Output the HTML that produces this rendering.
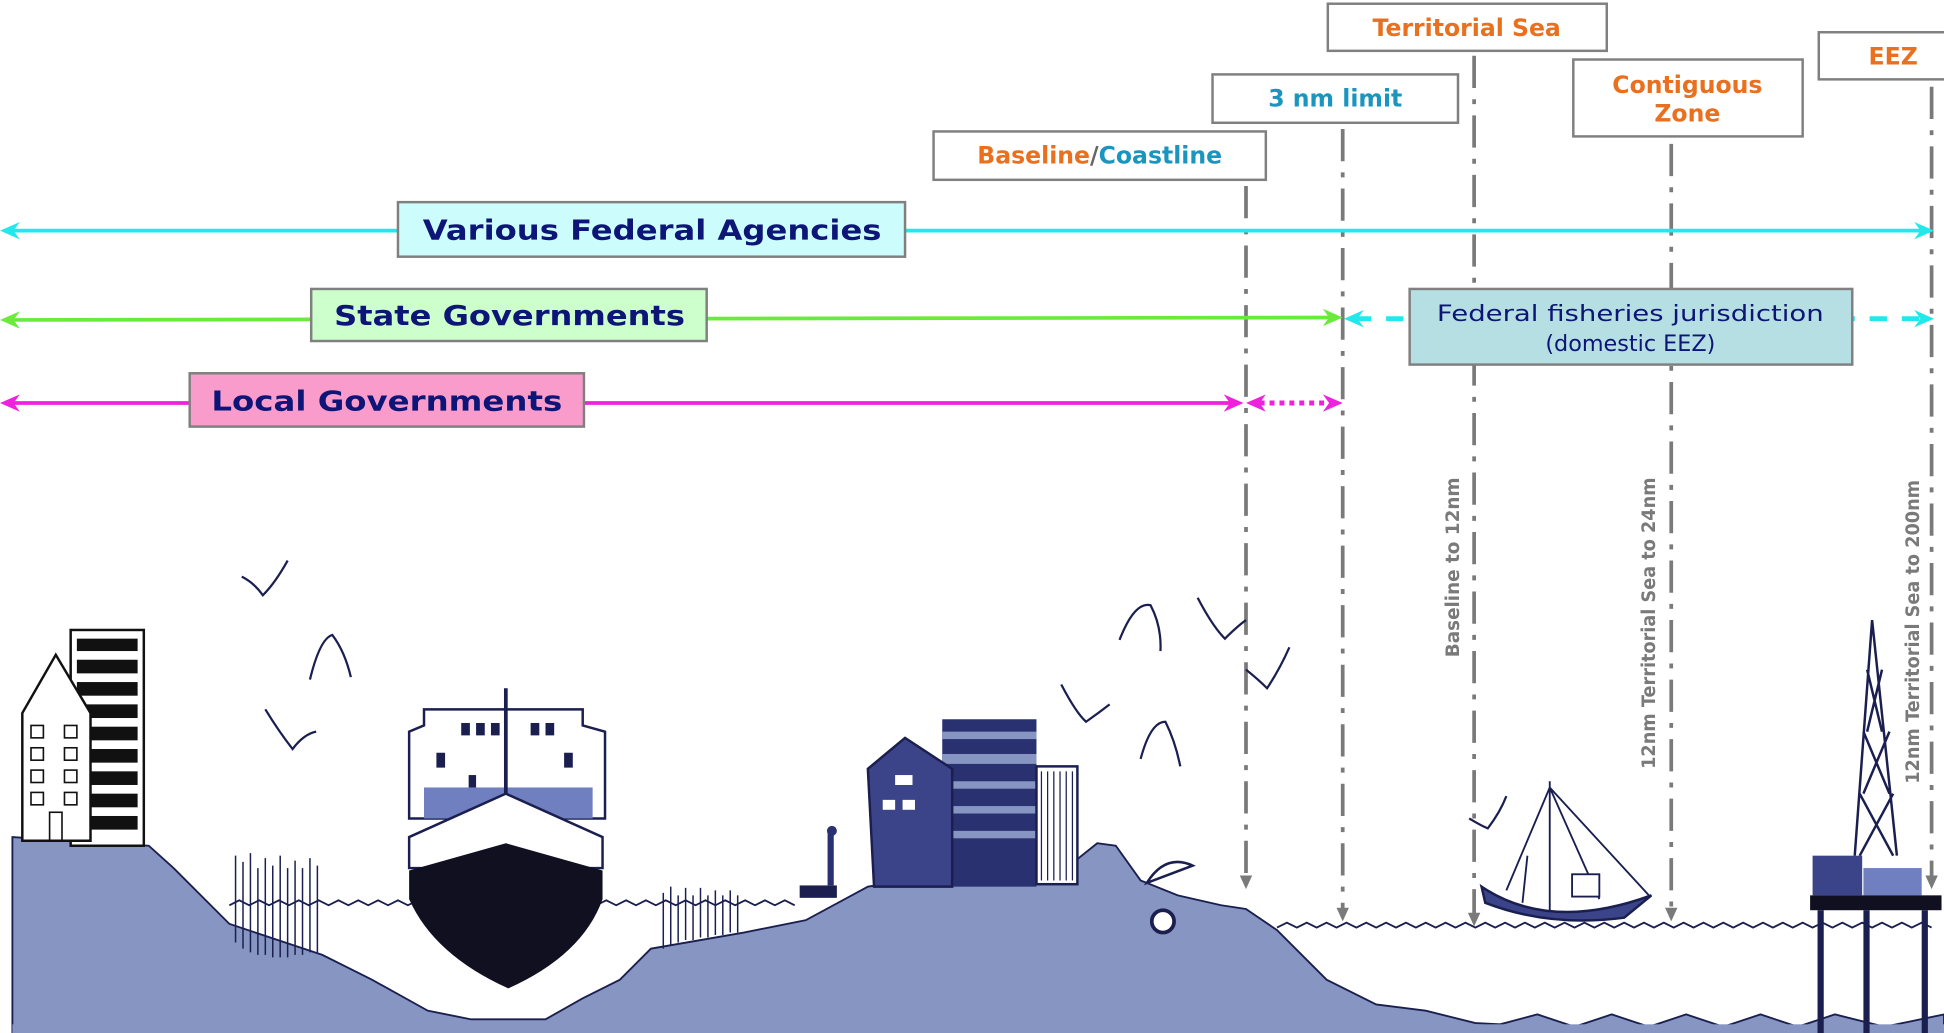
<!DOCTYPE html>
<html><head><meta charset="utf-8"><style>
html,body{margin:0;padding:0;background:#fff;}
svg{display:block;}
text{font-family:"DejaVu Sans","Liberation Sans",sans-serif;}
</style></head><body>
<svg width="1944" height="1033" viewBox="0 0 1568 833" preserveAspectRatio="none" xmlns="http://www.w3.org/2000/svg">
<rect width="1568" height="833" fill="#fff"/>

<!-- vertical dash-dot lines -->
<g stroke="#7a7a7a" stroke-width="3" fill="none" stroke-dasharray="26 9 4 9">
<line x1="1005" y1="150" x2="1005" y2="712"/>
<line x1="1083" y1="104" x2="1083" y2="738"/>
<line x1="1189" y1="45" x2="1189" y2="742"/>
<line x1="1348" y1="116" x2="1348" y2="738"/>
<line x1="1558" y1="70" x2="1558" y2="712"/>
</g>
<g fill="#7a7a7a">
<polygon points="1000,706 1010,706 1005,717"/>
<polygon points="1078,732 1088,732 1083,743"/>
<polygon points="1184,736 1194,736 1189,747"/>
<polygon points="1343,732 1353,732 1348,743"/>
<polygon points="1553,706 1563,706 1558,717"/>
</g>

<!-- top boxes -->
<g stroke="#808080" stroke-width="2" fill="#fff">
<rect x="1071" y="3" width="225" height="38"/>
<rect x="978" y="60" width="198" height="39"/>
<rect x="753" y="106" width="268" height="39"/>
<rect x="1269" y="48" width="185" height="62"/>
<rect x="1467" y="26" width="110" height="38"/>
</g>
<g font-weight="bold" font-size="19" text-anchor="middle">
<text x="1183" y="29" fill="#e8701f">Territorial Sea</text>
<text x="1077" y="86" fill="#1a95c0">3 nm limit</text>
<text x="887" y="132"><tspan fill="#e8701f">Baseline</tspan><tspan fill="#666">/</tspan><tspan fill="#1a95c0">Coastline</tspan></text>
<text x="1361" y="75" fill="#e8701f">Contiguous</text>
<text x="1361" y="98" fill="#e8701f">Zone</text>
<text x="1527" y="52" fill="#e8701f">EEZ</text>
</g>

<!-- federal line -->
<line x1="6" y1="186" x2="1552" y2="186" stroke="#22e8ec" stroke-width="3"/>
<polygon points="0,186 16,179 11,186 16,193" fill="#22e8ec"/>
<polygon points="1560,186 1544,179 1549,186 1544,193" fill="#22e8ec"/>
<!-- state line -->
<line x1="6" y1="258" x2="1075" y2="256" stroke="#6aea3a" stroke-width="3"/>
<polygon points="0,258 16,251 11,258 16,265" fill="#6aea3a"/>
<polygon points="1083,256 1067,249 1072,256 1067,263" fill="#6aea3a"/>
<!-- fisheries dashed -->
<line x1="1092" y1="257" x2="1550" y2="257" stroke="#22e8ec" stroke-width="4" stroke-dasharray="14 12"/>
<polygon points="1084,257 1100,250 1095,257 1100,264" fill="#22e8ec"/>
<polygon points="1560,257 1544,250 1549,257 1544,264" fill="#22e8ec"/>
<!-- local line -->
<line x1="6" y1="325" x2="995" y2="325" stroke="#ee22dd" stroke-width="3"/>
<polygon points="0,325 16,318 11,325 16,332" fill="#ee22dd"/>
<polygon points="1003,325 987,318 992,325 987,332" fill="#ee22dd"/>
<line x1="1016" y1="325" x2="1072" y2="325" stroke="#ee22dd" stroke-width="4" stroke-dasharray="4 4"/>
<polygon points="1005,325 1021,318 1016,325 1021,332" fill="#ee22dd"/>
<polygon points="1083,325 1067,318 1072,325 1067,332" fill="#ee22dd"/>

<!-- label boxes -->
<rect x="321" y="163" width="409" height="44" fill="#ccfcfc" stroke="#808080" stroke-width="2"/>
<text x="526" y="193" font-size="22" font-weight="bold" fill="#0d1577" text-anchor="middle" textLength="370" lengthAdjust="spacingAndGlyphs">Various Federal Agencies</text>
<rect x="251" y="233" width="319" height="42" fill="#ccffcc" stroke="#808080" stroke-width="2"/>
<text x="411" y="262" font-size="22" font-weight="bold" fill="#0d1577" text-anchor="middle" textLength="283" lengthAdjust="spacingAndGlyphs">State Governments</text>
<rect x="153" y="301" width="318" height="43" fill="#f99ccc" stroke="#808080" stroke-width="2"/>
<text x="312" y="331" font-size="22" font-weight="bold" fill="#0d1577" text-anchor="middle" textLength="283" lengthAdjust="spacingAndGlyphs">Local Governments</text>
<rect x="1137" y="233" width="357" height="61" fill="#b5dfe2" stroke="#808080" stroke-width="2"/>
<text x="1315" y="259" font-size="18" fill="#0d1577" text-anchor="middle" textLength="312" lengthAdjust="spacingAndGlyphs">Federal fisheries jurisdiction</text>
<text x="1315" y="283" font-size="18" fill="#0d1577" text-anchor="middle">(domestic EEZ)</text>

<!-- rotated labels -->
<g font-family="Liberation Sans,sans-serif" font-weight="bold" font-size="15" fill="#7a7a7a">
<text transform="translate(1177,530) rotate(-90)" textLength="145" lengthAdjust="spacingAndGlyphs">Baseline to 12nm</text>
<text transform="translate(1335,620) rotate(-90)" textLength="235" lengthAdjust="spacingAndGlyphs">12nm Territorial Sea to 24nm</text>
<text transform="translate(1548,632) rotate(-90)" textLength="245" lengthAdjust="spacingAndGlyphs">12nm Territorial Sea to 200nm</text>
</g>

<!-- ground -->
<path d="M10,675 L120,682 L140,700 L185,745 L260,770 L300,790 L345,815 L380,822 L440,822 L470,805 L500,790 L525,765 L600,752 L650,742 L700,715 L760,705 L790,685 L805,680 L820,690 L835,705 L860,700 L885,680 L900,682 L920,710 L950,722 L985,730 L1005,733 L1030,750 L1070,790 L1110,810 L1150,815 L1190,825 L1210,826 L1240,818 L1270,828 L1300,818 L1330,828 L1360,818 L1390,828 L1420,818 L1450,828 L1480,818 L1520,828 L1568,818 L1568,833 L10,833 Z" fill="#8795c2" stroke="#1a1f50" stroke-width="1.5"/>
<rect x="10" y="826" width="1558" height="7" fill="#8795c2"/>
<!-- waves -->
<path d="M185,730 l8,-4 l8,4 l8,-4 l8,4 l8,-4 l8,4 l8,-4 l8,4 l8,-4 l8,4 l8,-4 l8,4 l8,-4 l8,4 l8,-4 l8,4 l8,-4 l8,4 l8,-4 l8,4" fill="none" stroke="#1a1f50" stroke-width="1.5"/>
<path d="M465,730 l8,-4 l8,4 l8,-4 l8,4 l8,-4 l8,4 l8,-4 l8,4 l8,-4 l8,4 l8,-4 l8,4 l8,-4 l8,4 l8,-4 l8,4 l8,-4 l8,4 l8,-4 l8,4 l8,-4 l8,4" fill="none" stroke="#1a1f50" stroke-width="1.5"/>
<path d="M1030,748 l8,-4 l8,4 l8,-4 l8,4 l8,-4 l8,4 l8,-4 l8,4 l8,-4 l8,4 l8,-4 l8,4 l8,-4 l8,4 l8,-4 l8,4 l8,-4 l8,4 l8,-4 l8,4 l8,-4 l8,4 l8,-4 l8,4 l8,-4 l8,4 l8,-4 l8,4 l8,-4 l8,4 l8,-4 l8,4 l8,-4 l8,4 l8,-4 l8,4 l8,-4 l8,4 l8,-4 l8,4 l8,-4 l8,4 l8,-4 l8,4 l8,-4 l8,4 l8,-4 l8,4 l8,-4 l8,4 l8,-4 l8,4 l8,-4 l8,4 l8,-4 l8,4 l8,-4 l8,4 l8,-4 l8,4 l8,-4 l8,4 l8,-4 l8,4 l8,-4 l8,4" fill="none" stroke="#1a1f50" stroke-width="1.5"/>

<!-- reeds -->
<g stroke="#1a1f50" stroke-width="1.2">
<path d="M190,690 V760 M196,695 V765 M202,688 V768 M208,700 V770 M214,692 V770 M220,698 V772 M226,690 V772 M232,700 V772 M238,694 V770 M244,700 V770 M250,692 V768 M256,698 V768"/>
<path d="M535,720 V765 M541,715 V762 M547,722 V760 M553,716 V758 M559,722 V758 M565,716 V756 M571,722 V756 M577,718 V754 M583,722 V754 M589,718 V752 M595,722 V752"/>
</g>

<!-- left buildings -->
<rect x="57" y="508" width="59" height="174" fill="#fff" stroke="#111" stroke-width="2"/>
<g fill="#111">
<rect x="62" y="515" width="49" height="10"/><rect x="62" y="532" width="49" height="11"/><rect x="62" y="550" width="49" height="11"/><rect x="62" y="568" width="49" height="11"/><rect x="62" y="586" width="49" height="11"/><rect x="62" y="604" width="49" height="11"/><rect x="62" y="622" width="49" height="11"/><rect x="62" y="640" width="49" height="11"/><rect x="62" y="658" width="49" height="11"/>
</g>
<path d="M18,575 L45,528 L73,575 L73,678 L18,678 Z" fill="#fff" stroke="#111" stroke-width="2"/>
<g fill="none" stroke="#111" stroke-width="1.3">
<rect x="25" y="585" width="10" height="10"/><rect x="52" y="585" width="10" height="10"/>
<rect x="25" y="603" width="10" height="10"/><rect x="52" y="603" width="10" height="10"/>
<rect x="25" y="621" width="10" height="10"/><rect x="52" y="621" width="10" height="10"/>
<rect x="25" y="639" width="10" height="10"/><rect x="52" y="639" width="10" height="10"/>
<rect x="40" y="655" width="10" height="23"/>
</g>

<!-- ship -->
<path d="M330,590 L342,585 V572 H470 V585 L488,590 V660 H330 Z" fill="#fff" stroke="#1a1f50" stroke-width="2"/>
<rect x="342" y="635" width="136" height="25" fill="#6f7fbf"/>
<line x1="408" y1="555" x2="408" y2="700" stroke="#1a1f50" stroke-width="3"/>
<path d="M330,675 L408,640 L486,675 L486,700 L330,700 Z" fill="#fff" stroke="#1a1f50" stroke-width="2"/>
<path d="M330,702 L408,680 L486,702 L486,725 Q470,770 410,797 Q350,770 330,725 Z" fill="#111020"/>
<g fill="#1a1f50"><rect x="372" y="583" width="7" height="10"/><rect x="384" y="583" width="7" height="10"/><rect x="396" y="583" width="7" height="10"/><rect x="428" y="583" width="7" height="10"/><rect x="440" y="583" width="7" height="10"/><rect x="352" y="607" width="7" height="12"/><rect x="455" y="607" width="7" height="12"/><rect x="378" y="625" width="6" height="10"/></g>

<!-- town -->
<rect x="760" y="580" width="76" height="135" fill="#2a3170"/>
<g fill="#8795c2"><rect x="760" y="590" width="76" height="6"/><rect x="760" y="608" width="76" height="8"/><rect x="760" y="630" width="76" height="6"/><rect x="760" y="650" width="76" height="6"/><rect x="760" y="670" width="76" height="6"/></g>
<rect x="836" y="618" width="33" height="95" fill="#fff" stroke="#1a1f50" stroke-width="2"/>
<path d="M840,622 V710 M845,622 V710 M850,622 V710 M855,622 V710 M860,622 V710 M865,622 V710" stroke="#1a1f50"/>
<path d="M700,620 L730,595 L768,620 L768,715 L705,715 Z" fill="#3b4488" stroke="#1a1f50" stroke-width="2"/>
<g fill="#fff"><rect x="722" y="625" width="14" height="8"/><rect x="712" y="645" width="10" height="8"/><rect x="728" y="645" width="10" height="8"/></g>
<rect x="645" y="714" width="30" height="10" fill="#1a1f50"/>
<line x1="670" y1="672" x2="670" y2="714" stroke="#2a3170" stroke-width="5"/>
<circle cx="671" cy="670" r="4" fill="#2a3170"/>
<!-- beach umbrella -->
<path d="M925,712 Q940,688 962,698 Z" fill="#fff" stroke="#1a1f50" stroke-width="2"/>
<circle cx="938" cy="743" r="9" fill="#fff" stroke="#1a1f50" stroke-width="3"/>

<!-- fishing boat -->
<path d="M1195,715 Q1250,752 1332,722 L1310,740 Q1250,748 1198,728 Z" fill="#3b4488" stroke="#1a1f50" stroke-width="2"/>
<g stroke="#1a1f50" stroke-width="1.5" fill="none">
<path d="M1250,630 V735 M1250,635 L1215,718 M1250,635 L1290,725 M1250,635 L1330,722 M1232,690 L1228,728"/>
<rect x="1268" y="705" width="22" height="18" fill="#fff"/>
</g>

<!-- oil rig -->
<g stroke="#1a1f50" stroke-width="2" fill="none">
<path d="M1510,500 L1496,690 M1510,500 L1530,690 M1500,640 L1527,690 M1527,640 L1500,690 M1503,590 L1524,640 M1524,590 L1503,640 M1506,540 L1518,590 M1518,540 L1506,590"/>
</g>
<rect x="1462" y="690" width="40" height="32" fill="#3b4488"/>
<rect x="1503" y="700" width="47" height="22" fill="#6f7fbf"/>
<rect x="1460" y="722" width="106" height="12" fill="#111020"/>
<g fill="#1a1f50"><rect x="1466" y="734" width="5" height="99"/><rect x="1503" y="734" width="5" height="99"/><rect x="1550" y="734" width="5" height="99"/></g>

<!-- birds -->
<g fill="none" stroke="#1a1f50" stroke-width="1.8">
<path d="M195,465 Q205,470 212,480 Q222,470 232,452"/>
<path d="M250,548 Q258,515 268,512 Q278,525 283,546"/>
<path d="M214,572 Q225,590 236,604 Q245,592 255,590"/>
<path d="M903,516 Q915,485 928,488 Q937,505 936,525"/>
<path d="M966,482 Q978,505 988,515 Q998,505 1005,500"/>
<path d="M1005,540 Q1015,548 1022,555 Q1032,540 1040,522"/>
<path d="M856,552 Q868,575 876,582 Q886,575 895,568"/>
<path d="M920,612 Q928,582 940,582 Q948,598 952,618"/>
<path d="M1185,660 Q1195,666 1200,668 Q1210,655 1215,642"/>
</g>
</svg>
</body></html>
